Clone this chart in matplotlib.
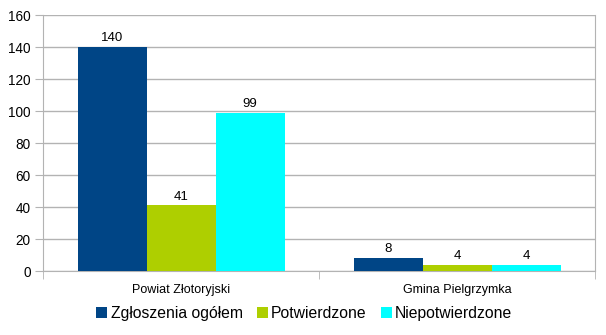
import numpy as np
import matplotlib.pyplot as plt

plt.rcParams['font.family'] = ['Liberation Sans', 'DejaVu Sans']

# counts per area
categories = ["Powiat Złotoryjski", "Gmina Pielgrzymka"]
series_names = ["Zgłoszenia ogółem", "Potwierdzone", "Niepotwierdzone"]
zgloszenia = [140, 8]
potwierdzone = [41, 4]
niepotwierdzone = [99, 4]
colors = ["#004586", "#aecf00", "#00ffff"]

fig = plt.figure(figsize=(6.06, 3.35), dpi=100)
ax = fig.add_axes([0.071, 0.191, 0.911, 0.764])

x = np.arange(len(categories))
w = 0.25
for i, (vals, name, c) in enumerate(zip([zgloszenia, potwierdzone, niepotwierdzone], series_names, colors)):
    bars = ax.bar(x + (i - 1) * w, vals, w, color=c, label=name, zorder=3)
    ax.bar_label(bars, labels=[str(v) for v in vals], padding=2, fontsize=9.5)

ax.set_xlim(-0.5, 1.5)
ax.set_ylim(0, 160)
ax.set_yticks(range(0, 161, 20))
ax.yaxis.grid(True, color="#b3b3b3", linewidth=1, zorder=0)
ax.set_xticks(x)
ax.set_xticklabels(categories, fontsize=9)
ax.tick_params(axis="x", length=0, pad=9)
ax.set_xticks([-0.5, 0.5, 1.5], minor=True)
ax.tick_params(axis="x", which="minor", length=6, color="#b3b3b3")
ax.tick_params(axis="y", length=6, color="#b3b3b3", labelsize=9.8, pad=3)
for s in ["left", "right", "bottom"]:
    ax.spines[s].set_color("#b3b3b3")
ax.spines["top"].set_visible(False)

fig.legend(loc="center", bbox_to_anchor=(0.502, 0.065), ncol=3, frameon=False,
           fontsize=11.3, handlelength=0.7, handleheight=0.7, handletextpad=0.2,
           columnspacing=0.9)

fig.savefig("out.png", dpi=100)
